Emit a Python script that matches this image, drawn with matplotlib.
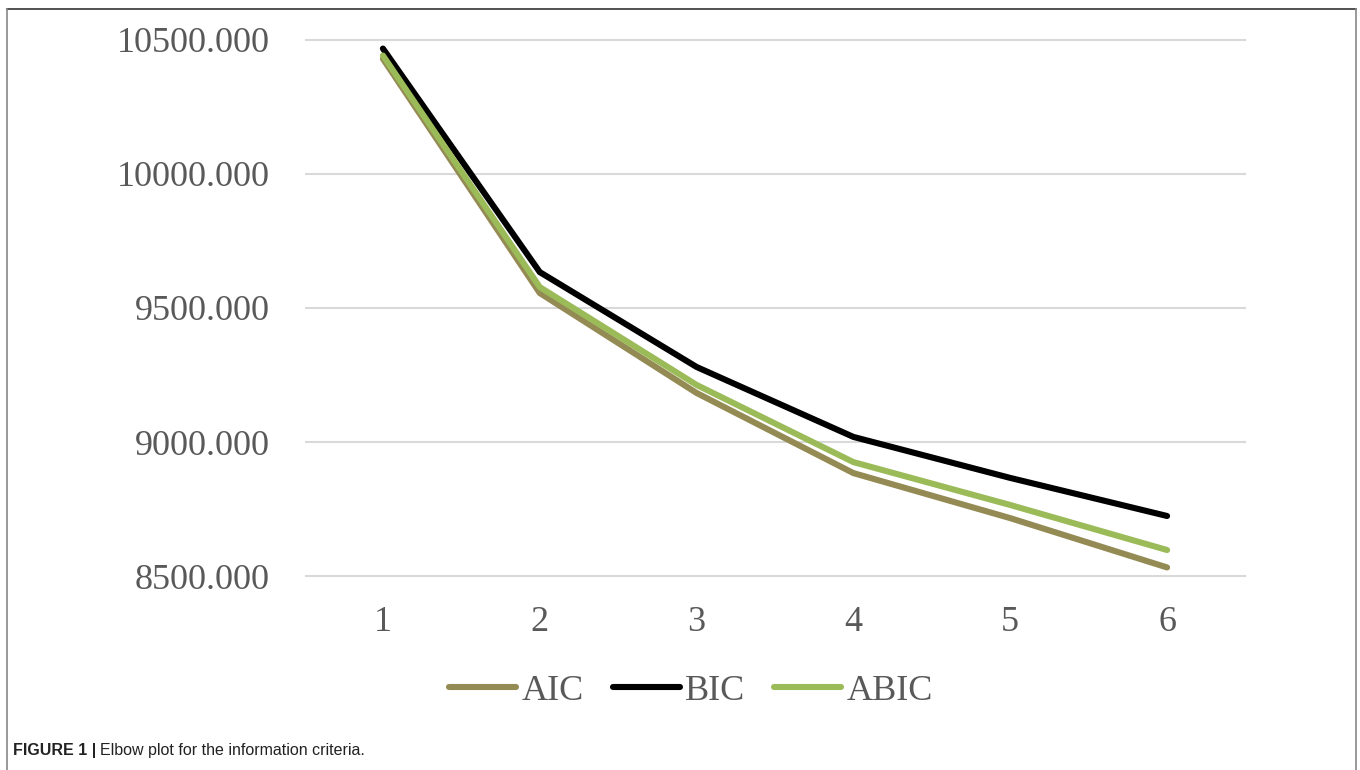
import numpy as np
import matplotlib
matplotlib.use("Agg")
import matplotlib.pyplot as plt
from matplotlib.lines import Line2D

# values
classes = [1, 2, 3, 4, 5, 6]
aic = [10430, 9556, 9183, 8884, 8716, 8532]
bic = [10468, 9634, 9280, 9019, 8866, 8724]
abic = [10442, 9578, 9213, 8925, 8765, 8597]
series_names = ["AIC", "BIC", "ABIC"]
series_colors = ["#948A54", "#000000", "#9BBB59"]
yticks = [8500, 9000, 9500, 10000, 10500]

W, H = 1360, 770
fig = plt.figure(figsize=(W / 100, H / 100), dpi=100)

# axes box in pixels
left, right = 304.5, 1245.5
top, bottom = 37.3, 578.7
ax = fig.add_axes([left / W, 1 - bottom / H, (right - left) / W, (bottom - top) / H])

tickfont = {"family": ["Liberation Serif", "DejaVu Serif"], "size": 26, "color": "#595959"}

handles = []
for vals, name, c in zip([aic, bic, abic], series_names, series_colors):
    h, = ax.plot(classes, vals, color=c, lw=4.4, solid_capstyle="round",
                 solid_joinstyle="miter", label=name, zorder=3)
    handles.append(h)

ax.set_xlim(0.5, 6.5)
ax.set_ylim(8490, 10510)
ax.set_yticks(yticks)
ax.set_yticklabels(["%.3f" % v for v in yticks], fontdict=tickfont)
ax.set_xticks(classes)
ax.set_xticklabels([str(c) for c in classes], fontdict=tickfont)
ax.tick_params(axis="both", length=0)
ax.tick_params(axis="y", pad=25)
ax.tick_params(axis="x", pad=20)
ax.grid(axis="y", color="#d9d9d9", lw=1.5, zorder=0)
ax.grid(axis="x", visible=False)
for s in ax.spines.values():
    s.set_visible(False)

leg = fig.legend(handles, series_names, loc="center", bbox_to_anchor=(691 / W, 1 - 691 / H),
                 ncol=3, frameon=False, handlelength=1.85, handletextpad=0.15,
                 columnspacing=0.8, prop={"family": ["Liberation Serif", "DejaVu Serif"], "size": 26})
for t in leg.get_texts():
    t.set_color("#595959")

# outer frame of the figure panel
fig.add_artist(Line2D([7 / W, 1356 / W], [1 - 9 / H, 1 - 9 / H], color="#333333", lw=1.2))
fig.add_artist(Line2D([7 / W, 7 / W], [0, 1 - 9 / H], color="#888888", lw=1.2))
fig.add_artist(Line2D([1356 / W, 1356 / W], [0, 1 - 9 / H], color="#888888", lw=1.2))

capfam = ["Liberation Sans Narrow", "Liberation Sans", "DejaVu Sans"]
t1 = fig.text(13 / W, 1 - 751 / H, "FIGURE 1 |", family=capfam, weight="bold",
              fontsize=11.5, color="#222222", va="center")
fig.canvas.draw()
bb = t1.get_window_extent()
fig.text((bb.x1 + 4) / W, 1 - 751 / H, "Elbow plot for the information criteria.",
         family=capfam, fontsize=11.5, color="#222222", va="center")

fig.savefig("out.png", dpi=100)
